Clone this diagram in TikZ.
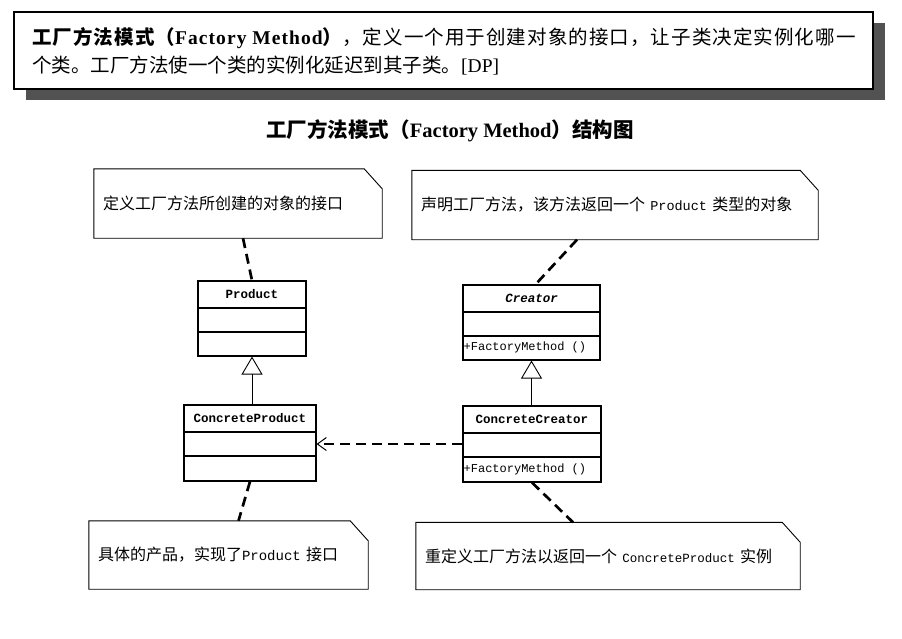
\documentclass[tikz,border=0pt]{standalone}
\usepackage{fontspec}
\setmainfont{Liberation Serif}
\setmonofont{Liberation Mono}
\newfontfamily\cjk{Noto Sans CJK SC}
\newfontfamily\cjkwide[LetterSpace=5.5]{Noto Sans CJK SC}
\newfontfamily\serifwide[LetterSpace=5.5]{Liberation Serif}
\usetikzlibrary{arrows.meta,shadows}
\newcommand\zh[1]{{\cjk #1}}

\tikzset{
  defbox/.style={draw, line width=1.4pt, fill=white,
    drop shadow={shadow xshift=12pt, shadow yshift=-11pt, fill=black!68, opacity=1}},
  deftext/.style={anchor=west, inner sep=0pt, font=\fontsize{19.5}{24}\selectfont},
  titletext/.style={inner sep=0pt, font=\fontsize{20.5}{24}\selectfont},
  classbox/.style={draw, line width=1.1pt, fill=white},
  rowline/.style={line width=1.1pt},
  clsname/.style={inner sep=0pt, font=\fontsize{12.5}{14}\selectfont\ttfamily\bfseries},
  member/.style={anchor=west, inner sep=0pt, font=\fontsize{12}{14}\selectfont\ttfamily},
  note/.style={inner xsep=9pt, inner ysep=0pt, align=left, font=\fontsize{16}{19}\selectfont},
  noteedge/.style={line width=0.9pt},
  anchorline/.style={line width=2.7pt, dash pattern=on 10pt off 6pt},
  inherit/.style={line width=0.9pt, -{Triangle[open, length=18pt, width=21pt, line width=0.9pt]}},
  depend/.style={line width=2.7pt, dash pattern=on 10pt off 6pt,
    -{Straight Barb[length=9pt, width=13pt, line width=1pt]}},
}

\begin{document}
\begin{tikzpicture}[x=1pt,y=-1pt]
\useasboundingbox[fill=white] (0,0) rectangle (902,638);

% definition of the pattern
\node[defbox, minimum width=859pt, minimum height=77pt] (def) at (443.5,50.5) {};
\node[deftext] (defline1) at (32,38)
  {{\cjkwide\bfseries 工厂方法模式（}{\serifwide\bfseries Factory Method}{\cjkwide\bfseries ）}{\cjkwide ，定义一个用于创建对象的接口，让子类决定实例化哪一}};
\node[deftext] (defline2) at (32,66)
  {{\cjk 个类。工厂方法使一个类的实例化延迟到其子类。}[DP]};

% heading
\node[titletext] (title) at (450,131)
  {{\cjk\bfseries 工厂方法模式（}{\bfseries Factory Method}{\cjk\bfseries ）结构图}};

% classes
\node[classbox, minimum width=108pt, minimum height=75pt] (product) at (252,318.5) {};
\node[classbox, minimum width=132pt, minimum height=76pt] (cp) at (250,443) {};
\node[classbox, minimum width=137pt, minimum height=75pt] (creator) at (531.5,322.5) {};
\node[classbox, minimum width=138pt, minimum height=76pt] (cc) at (532,444) {};

\foreach \c in {product,cp,creator,cc} {
  \draw[rowline] ([yshift=-27.5pt]\c.north west) -- ([yshift=-27.5pt]\c.north east);
  \draw[rowline] ([yshift=-51.5pt]\c.north west) -- ([yshift=-51.5pt]\c.north east);
}

\node[clsname] (productname) at ([yshift=-14pt]product.north) {Product};
\node[clsname] (cpname) at ([yshift=-14pt]cp.north) {ConcreteProduct};
\node[clsname, font=\fontsize{12.5}{14}\selectfont\ttfamily\bfseries\itshape] (creatorname) at ([yshift=-14pt]creator.north) {Creator};
\node[clsname] (ccname) at ([yshift=-14pt]cc.north) {ConcreteCreator};
\node[member] (creatorop) at ([xshift=1pt,yshift=-63pt]creator.north west) {+FactoryMethod ()};
\node[member] (ccop) at ([xshift=1pt,yshift=-63.5pt]cc.north west) {+FactoryMethod ()};

% notes
\node[note, minimum width=288pt, minimum height=69pt, text width=270pt] (n1) at (238,203.5)
  {\zh{定义工厂方法所创建的对象的接口}};
\node[note, minimum width=406pt, minimum height=69pt, text width=388pt] (n2) at (615,205)
  {\zh{声明工厂方法，该方法返回一个 }{\fontsize{13.5}{16}\selectfont\ttfamily Product}\zh{ 类型的对象}};
\node[note, minimum width=279pt, minimum height=68pt, text width=261pt] (n3) at (228.5,555)
  {\zh{具体的产品，实现了}{\fontsize{14}{16}\selectfont\ttfamily Product}\zh{ 接口}};
\node[note, minimum width=384pt, minimum height=67pt, text width=366pt] (n4) at (608,556)
  {\zh{重定义工厂方法以返回一个 }{\fontsize{12.5}{16}\selectfont\ttfamily ConcreteProduct}\zh{ 实例}};

\foreach \n in {n1,n2,n3,n4}
  \draw[noteedge] (\n.north west) -- ([xshift=-18pt]\n.north east)
    -- ([yshift=-20pt]\n.north east) -- (\n.south east) -- (\n.south west) -- cycle;

% note anchors
\draw[anchorline] ([xshift=5pt]n1.south) -- (product.north);
\draw[anchorline] ([xshift=-38pt]n2.south) -- ([xshift=4pt]creator.north);
\draw[anchorline] (cp.south) -- ([xshift=10pt]n3.north);
\draw[anchorline] (cc.south) -- ([xshift=-35pt]n4.north);

% generalisation
\draw[inherit] (cp.north -| product.south) -- (product.south);
\draw[inherit] (cc.north -| creator.south) -- (creator.south);

% dependency
\draw[depend] (cc.west) -- (cc.west -| cp.east);
\end{tikzpicture}
\end{document}
